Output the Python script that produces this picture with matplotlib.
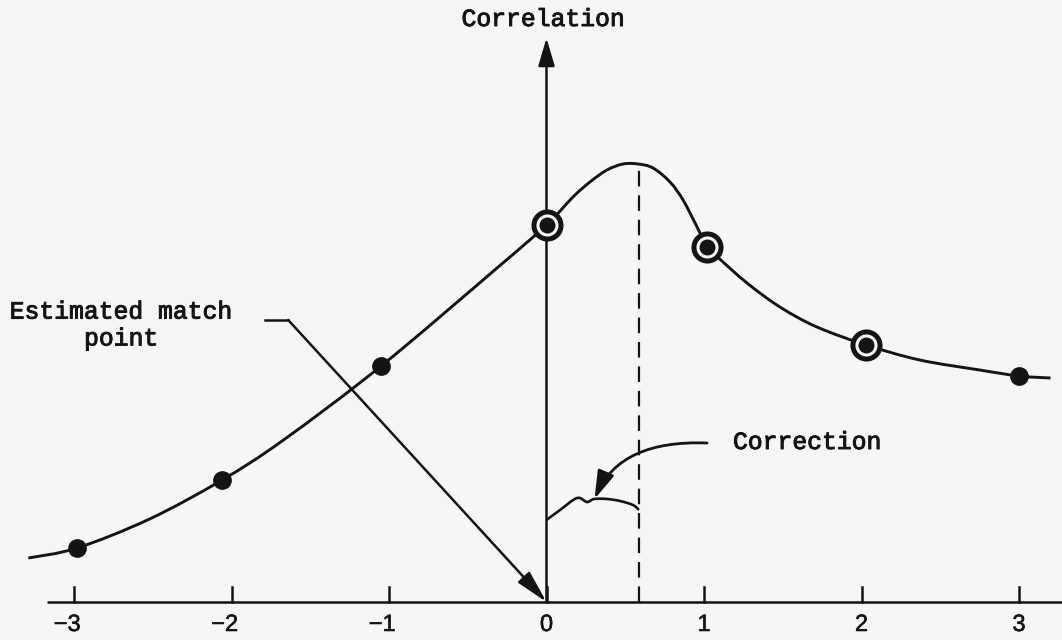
import numpy as np
import matplotlib
matplotlib.use("Agg")
import matplotlib.pyplot as plt
import matplotlib.patheffects as pe
from matplotlib.path import Path
from matplotlib.patches import PathPatch, FancyArrowPatch

# 采样点
sample_x = [-2.98, -2.06, -1.05, 0.0, 1.02, 2.03, 3.0]
sample_y = [0.54, 1.22, 2.36, 3.77, 3.55, 2.57, 2.26]
ringed = [False, False, False, True, True, True, False]

# 相关曲线的描点
curve_x = [-3.29, -2.98, -2.52, -2.06, -1.67, -1.05, -0.314, 0.0, 0.168, 0.276,
           0.384, 0.486, 0.581, 0.676, 0.784, 0.867, 0.956, 1.02, 1.10, 1.273,
           1.482, 1.717, 2.03, 2.37, 2.75, 3.0, 3.20]
curve_y = [0.44, 0.54, 0.83, 1.22, 1.62, 2.36, 3.34, 3.77, 4.05, 4.20,
           4.32, 4.38, 4.38, 4.34, 4.20, 4.02, 3.75, 3.55, 3.43, 3.19,
           2.95, 2.75, 2.57, 2.42, 2.32, 2.26, 2.24]

# 修正量的波浪线
brace_x = [0.0, 0.086, 0.194, 0.257, 0.302, 0.384, 0.467, 0.549, 0.587]
brace_y = [0.82, 0.92, 1.04, 1.00, 1.03, 1.03, 1.01, 0.97, 0.92]

peak_x = 0.585
peak_y = 4.37

tick_vals = [-3, -2, -1, 0, 1, 2, 3]
tick_labels = ['\u22123', '\u22122', '\u22121', '0', '1', '2', '3']

ink = '#141414'
paper = '#f6f6f4'
mono = ['Liberation Mono', 'DejaVu Sans Mono']
sans = ['Liberation Sans', 'DejaVu Sans']
heavy = [pe.withStroke(linewidth=0.7, foreground=ink)]
light = [pe.withStroke(linewidth=0.4, foreground=ink)]


def smooth_path(xs, ys):
    pts = np.column_stack([xs, ys])
    n = len(pts)
    verts = [pts[0]]
    codes = [Path.MOVETO]
    for i in range(n - 1):
        p0 = pts[max(i - 1, 0)]
        p1 = pts[i]
        p2 = pts[i + 1]
        p3 = pts[min(i + 2, n - 1)]
        verts += [p1 + (p2 - p0) / 6, p2 - (p3 - p1) / 6, p2]
        codes += [Path.CURVE4] * 3
    return Path(verts, codes)


fig = plt.figure(figsize=(10.62, 6.4), dpi=100, facecolor=paper)
ax = fig.add_axes([0, 0, 1, 1])
ax.set_facecolor(paper)
ax.set_xlim(-546.5 / 157.5, (1062 - 546.5) / 157.5)
ax.set_ylim(-0.38, 6.02)
ax.axis('off')

# 横轴与刻度
ax.plot([-3.17, 3.4], [0, 0], color=ink, lw=1.8, solid_capstyle='butt')
for v, lab in zip(tick_vals, tick_labels):
    ax.plot([v, v], [0, 0.15], color=ink, lw=1.8)
    if v < 0:
        ax.text(v + 0.042, -0.23, lab, ha='right', va='center', fontsize=17,
                family=sans, color=ink, path_effects=light)
    else:
        ax.text(v, -0.23, lab, ha='center', va='center', fontsize=17,
                family=sans, color=ink, path_effects=light)

# 纵轴箭头
ax.annotate('', xy=(0, 5.64), xytext=(0, 0),
            arrowprops=dict(arrowstyle='-|>,head_length=0.85,head_width=0.25',
                            color=ink, lw=1.8, shrinkA=0, shrinkB=0,
                            mutation_scale=20))
ax.text(-0.02, 5.83, 'Correlation', ha='center', va='center', fontsize=17.8,
        family=mono, color=ink, path_effects=heavy)

# 相关曲线
ax.add_patch(PathPatch(smooth_path(curve_x, curve_y), fill=False,
                       edgecolor=ink, lw=2.1, zorder=3))

# 峰值处虚线
ax.plot([peak_x, peak_x], [0, peak_y], color=ink, lw=1.6, dashes=(7, 4), zorder=2)

# 采样点
for x, y, r in zip(sample_x, sample_y, ringed):
    if r:
        ax.plot(x, y, 'o', ms=19.5, mfc=paper, mec=ink, mew=3.6, zorder=5)
        ax.plot(x, y, 'o', ms=11.5, mfc=ink, mec=ink, mew=0, zorder=6)
    else:
        ax.plot(x, y, 'o', ms=13.5, mfc=ink, mec=ink, mew=0, zorder=5)

# 修正量
ax.add_patch(PathPatch(smooth_path(brace_x, brace_y), fill=False,
                       edgecolor=ink, lw=1.9, zorder=3))
arrow_path = Path([(1.019, 1.59), (0.66, 1.61), (0.42, 1.45), (0.305, 1.03)],
                  [Path.MOVETO, Path.CURVE4, Path.CURVE4, Path.CURVE4])
ax.add_patch(FancyArrowPatch(path=arrow_path,
                             arrowstyle='-|>,head_length=0.85,head_width=0.26',
                             mutation_scale=20, color=ink, lw=2.0, zorder=4))
ax.text(1.184, 1.60, 'Correction', ha='left', va='center', fontsize=17.8,
        family=mono, color=ink, path_effects=heavy)

# 估计匹配点
ax.plot([-1.79, -1.64], [2.82, 2.82], color=ink, lw=1.8)
ax.annotate('', xy=(0, 0.0), xytext=(-1.64, 2.82),
            arrowprops=dict(arrowstyle='-|>,head_length=1.0,head_width=0.24',
                            color=ink, lw=1.8, shrinkA=0, shrinkB=0,
                            mutation_scale=20))
ax.text(-2.70, 2.77, 'Estimated match\npoint', ha='center', va='center',
        multialignment='center', fontsize=17.8, family=mono, color=ink,
        linespacing=1.15, path_effects=heavy)

fig.savefig('out.png', dpi=100, facecolor=paper)
